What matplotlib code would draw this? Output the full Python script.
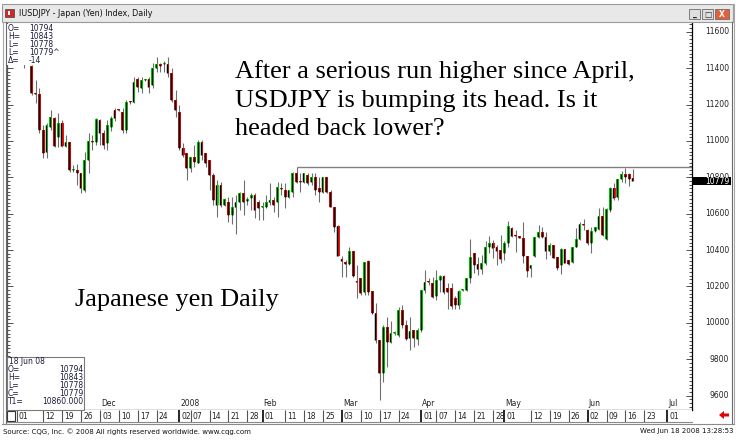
import numpy as np
import pandas as pd
import matplotlib
matplotlib.use('Agg')
import matplotlib.pyplot as plt
from matplotlib.patches import Rectangle, Polygon
from matplotlib.ticker import MultipleLocator, NullFormatter

W, H = 743, 443

# daily USDJPY bars (x100), 5 Nov 2007 .. 18 Jun 2008
opens = [11470, 11450, 11409, 11262, 11258, 11060, 10938, 11077, 11126, 11021,
         11099, 10972, 10994, 10838, 10840, 10823, 10729, 10895, 10999, 10994,
         11115, 11043, 10988, 11077, 11170, 11172, 11159, 11060, 11216, 11214,
         11341, 11291, 11334, 11341, 11308, 11402, 11424, 11422, 11424, 11374,
         11225, 11159, 10961, 10932, 10849, 10913, 10877, 10996, 10932, 10895,
         10812, 10650, 10757, 10647, 10665, 10592, 10638, 10665, 10711, 10672,
         10684, 10702, 10665, 10636, 10638, 10665, 10674, 10665, 10742, 10730,
         10693, 10720, 10825, 10777, 10775, 10812, 10775, 10803, 10739, 10720,
         10803, 10720, 10638, 10531, 10352, 10337, 10326, 10394, 10230, 10248,
         10171, 10341, 10175, 10056, 9906, 9726, 9979, 9897, 9944, 9934,
         10071, 9988, 9915, 9961, 9910, 9961, 10181, 10228, 10218, 10148,
         10236, 10258, 10190, 10190, 10138, 10098, 10180, 10180, 10245, 10382,
         10322, 10296, 10327, 10419, 10441, 10415, 10399, 10386, 10437, 10520,
         10480, 10472, 10465, 10368, 10300, 10368, 10470, 10501, 10470, 10396,
         10426, 10364, 10318, 10404, 10343, 10336, 10419, 10459, 10543, 10510,
         10437, 10505, 10514, 10587, 10459, 10620, 10739, 10690, 10789, 10818,
         10818, 10794]
highs = [11490, 11480, 11415, 11335, 11291, 11088, 11100, 11170, 11132, 11154,
         11115, 11032, 10994, 10867, 10873, 10823, 10939, 11043, 11032, 11126,
         11120, 11060, 11115, 11137, 11181, 11175, 11181, 11225, 11218, 11352,
         11352, 11352, 11340, 11352, 11430, 11460, 11430, 11440, 11463, 11402,
         11280, 11198, 10988, 10933, 10913, 10977, 11005, 11005, 10932, 10895,
         10822, 10785, 10775, 10684, 10693, 10693, 10700, 10720, 10785, 10693,
         10711, 10711, 10674, 10665, 10702, 10766, 10693, 10775, 10766, 10766,
         10730, 10831, 10855, 10822, 10822, 10822, 10822, 10822, 10803, 10803,
         10803, 10730, 10638, 10540, 10370, 10347, 10419, 10394, 10316, 10248,
         10336, 10347, 10175, 10108, 9906, 9988, 10034, 10012, 9955, 10089,
         10097, 10016, 10034, 9961, 9970, 10181, 10290, 10245, 10254, 10290,
         10263, 10263, 10218, 10218, 10146, 10182, 10186, 10245, 10459, 10386,
         10364, 10373, 10452, 10477, 10454, 10426, 10482, 10448, 10560, 10527,
         10510, 10474, 10556, 10368, 10318, 10470, 10538, 10525, 10501, 10437,
         10426, 10364, 10410, 10404, 10347, 10419, 10520, 10556, 10569, 10515,
         10527, 10528, 10630, 10638, 10630, 10745, 10770, 10789, 10836, 10849,
         10825, 10843]
lows = [11398, 11430, 11255, 11209, 11043, 10906, 10906, 11060, 10966, 10966,
        10966, 10966, 10829, 10829, 10757, 10713, 10718, 10823, 10950, 10977,
        10977, 10955, 10950, 11055, 11110, 11165, 11043, 11043, 11205, 11209,
        11269, 11264, 11330, 11264, 11291, 11380, 11380, 11380, 11352, 11214,
        11132, 10950, 10913, 10785, 10831, 10858, 10877, 10895, 10858, 10730,
        10647, 10583, 10638, 10640, 10555, 10546, 10491, 10620, 10592, 10647,
        10620, 10574, 10564, 10564, 10630, 10647, 10610, 10583, 10702, 10629,
        10684, 10693, 10766, 10720, 10766, 10757, 10757, 10702, 10665, 10711,
        10711, 10638, 10500, 10365, 10251, 10251, 10316, 10253, 10134, 10153,
        10153, 10153, 10050, 9888, 9574, 9677, 9759, 9890, 9935, 9924,
        9970, 9906, 9851, 9869, 9879, 9950, 10163, 10210, 10135, 10126,
        10171, 10160, 10075, 10075, 10075, 10075, 10176, 10177, 10218, 10272,
        10263, 10268, 10318, 10386, 10355, 10318, 10327, 10344, 10419, 10472,
        10391, 10466, 10331, 10254, 10251, 10360, 10465, 10465, 10349, 10374,
        10355, 10291, 10269, 10327, 10318, 10327, 10415, 10454, 10510, 10430,
        10382, 10500, 10510, 10480, 10454, 10610, 10675, 10675, 10776, 10767,
        10752, 10778]
closes = [11440, 11465, 11262, 11258, 11060, 10933, 11088, 11132, 10972, 11099,
          10972, 10994, 10840, 10842, 10823, 10740, 10895, 11000, 10994, 11120,
          11043, 10977, 11088, 11126, 11126, 11168, 11060, 11214, 11212, 11325,
          11297, 11336, 11337, 11297, 11402, 11424, 11413, 11426, 11374, 11225,
          11170, 10961, 10922, 10850, 10913, 10882, 10996, 10922, 10877, 10812,
          10674, 10757, 10647, 10680, 10592, 10638, 10665, 10711, 10665, 10676,
          10702, 10620, 10629, 10640, 10665, 10674, 10647, 10748, 10736, 10693,
          10730, 10825, 10775, 10773, 10822, 10766, 10803, 10730, 10720, 10803,
          10720, 10638, 10527, 10365, 10339, 10325, 10394, 10257, 10225, 10166,
          10336, 10171, 10056, 9906, 9726, 9979, 9897, 9942, 9948, 10071,
          9988, 9910, 9957, 9915, 9961, 10181, 10226, 10222, 10141, 10236,
          10258, 10171, 10171, 10093, 10098, 10177, 10182, 10245, 10360, 10318,
          10296, 10327, 10419, 10437, 10410, 10395, 10349, 10437, 10533, 10478,
          10476, 10469, 10368, 10287, 10318, 10470, 10501, 10470, 10396, 10426,
          10358, 10300, 10404, 10331, 10323, 10419, 10459, 10543, 10540, 10437,
          10503, 10525, 10587, 10483, 10624, 10739, 10685, 10789, 10818, 10803,
          10793, 10779]

# trading calendar used for the x axis
cal_start, cal_end = '2007-11-01', '2008-07-15'
first_bar = '2007-11-05'
holidays = ['2008-01-01']
week_ticks = ['2007-11-01', '2007-11-12', '2007-11-19', '2007-11-26', '2007-12-03',
              '2007-12-10', '2007-12-17', '2007-12-24', '2008-01-02', '2008-01-07',
              '2008-01-14', '2008-01-21', '2008-01-28', '2008-02-01', '2008-02-11',
              '2008-02-18', '2008-02-25', '2008-03-03', '2008-03-10', '2008-03-17',
              '2008-03-24', '2008-04-01', '2008-04-07', '2008-04-14', '2008-04-21',
              '2008-04-28', '2008-05-01', '2008-05-12', '2008-05-19', '2008-05-26',
              '2008-06-02', '2008-06-09', '2008-06-16', '2008-06-23', '2008-07-01']
month_labels = {'2007-12-03': 'Dec', '2008-01-02': '2008', '2008-02-01': 'Feb',
                '2008-03-03': 'Mar', '2008-04-01': 'Apr', '2008-05-01': 'May',
                '2008-06-02': 'Jun', '2008-07-01': 'Jul'}
month_starts = ['2008-01-02', '2008-02-01', '2008-03-03', '2008-04-01',
                '2008-05-01', '2008-06-02', '2008-07-01']
price_ticks = list(range(9600, 11601, 200))
resistance = 10855
resistance_bar = 72
last_price = 10779

title = 'IUSDJPY - Japan (Yen) Index, Daily'
quote_top = [('O=', '10794'), ('H=', '10843'), ('L=', '10778'), ('L=', '10779^'), ('Δ=', '-14')]
quote_box = [('O=', '10794'), ('H=', '10843'), ('L=', '10778'), ('C=', '10779'), ('T1=', '10860.000')]
note = ['After a serious run higher since April,',
        'USDJPY is bumping its head. Is it',
        'headed back lower?']

days = pd.bdate_range(cal_start, cal_end)
days = days[~days.isin(pd.to_datetime(holidays))]
def pos(d):
    return days.get_loc(pd.Timestamp(d))

o = np.array(opens, float); h = np.array(highs, float)
l = np.array(lows, float); c = np.array(closes, float)
x = pos(first_bar) + np.arange(len(c))

def fx(px): return px / W
def fy(py): return 1 - py / H

fig = plt.figure(figsize=(W / 100, H / 100), dpi=100, facecolor='white')

# ---- price panel
ax = fig.add_axes([fx(7), fy(410), 685 / W, 387 / H])
ax.set_xlim(-2.58, 178.6)
ax.set_ylim(9521, 11648)

# candles: grey high-low line, coloured body, black stroke down the body's left side
ax.vlines(x, l, h, color='#6e6e6e', lw=0.8, zorder=2)
up = c >= o
body_lo = np.minimum(o, c)
body_h = np.maximum(np.abs(c - o), 6)
ax.bar(x, body_h, bottom=body_lo, width=0.74,
       color=np.where(up, '#00ee00', '#ee1111'), lw=0, zorder=3)
ax.vlines(x - 0.17, body_lo, body_lo + body_h, color='black', lw=1.05, zorder=4)

ax.hlines(resistance, x[resistance_bar], ax.get_xlim()[1], color='#808080', lw=1, zorder=1)

for s in ['left', 'right', 'bottom']:
    ax.spines[s].set_color('black')
    ax.spines[s].set_linewidth(0.9)
ax.spines['top'].set_visible(False)
ax.spines['left'].set_color('#555555')
ax.set_xticks([])
ax.yaxis.set_major_locator(MultipleLocator(200))
ax.yaxis.set_minor_locator(MultipleLocator(20))
ax.yaxis.set_major_formatter(NullFormatter())
ax.tick_params(axis='y', which='both', direction='in', left=True, right=True,
               colors='#333333', width=0.6)
ax.tick_params(axis='y', which='major', length=4)
ax.tick_params(axis='y', which='minor', length=2.5)

ytr = ax.get_yaxis_transform()
lab_x = (729 - 7) / 685
for p in price_ticks:
    ax.text(lab_x, p, str(p), transform=ytr, ha='right', va='center',
            fontsize=5.5, color='#222222', clip_on=False)
# last-price flag on the scale
ax.add_patch(Rectangle((1.0015, last_price - 24), 0.0555, 48, transform=ytr,
                       fc='black', ec='none', clip_on=False, zorder=5))
ax.text(lab_x, last_price, str(last_price), transform=ytr, ha='right', va='center',
        fontsize=5.5, color='white', clip_on=False, zorder=6)

xtr = ax.get_xaxis_transform()
for d, name in month_labels.items():
    ax.text(pos(d) + 0.3, 0.004, name, transform=xtr, ha='left', va='bottom',
            fontsize=5.5, color='#222222')

# ---- date strip under the price panel
axd = fig.add_axes([fx(7), fy(422), 685 / W, 12 / H])
axd.set_xlim(ax.get_xlim())
axd.set_ylim(0, 1)
axd.set_xticks([]); axd.set_yticks([])
for s in ['top', 'left', 'right']:
    axd.spines[s].set_visible(False)
axd.spines['bottom'].set_color('#8a8a8a')
for d in week_ticks:
    p = pos(d)
    strong = d in month_starts
    axd.vlines(p, 0, 1, color='black' if strong else '#555555', lw=1.2 if strong else 0.8)
    axd.text(p + 0.55, 0.45, pd.Timestamp(d).strftime('%d'), ha='left', va='center',
             fontsize=5.5, color='#222222')
axd.add_patch(Rectangle((-2.58, 0.08), 2.1, 0.84, fc='white', ec='#333333', lw=0.8))

# ---- window frame, captions and quote boxes
ov = fig.add_axes([0, 0, 1, 1], zorder=10)
ov.set_xlim(0, W); ov.set_ylim(H, 0); ov.axis('off'); ov.patch.set_alpha(0)

ov.add_patch(Rectangle((2, 4), 731, 18, fc='#e8e8e8', ec='#9a9a9a', lw=0.8))
ov.add_patch(Rectangle((5, 9), 9, 8, fc='#d02828', ec='#404040', lw=0.5))
ov.add_patch(Rectangle((8, 11), 2, 4, fc='white', ec='none'))
ov.text(19, 13.5, title, fontsize=5.8, va='center', ha='left', color='#111111')
for bx, bw, fc, sym, col in [(689, 11, '#dedede', '_', '#222222'),
                             (702, 11, '#dedede', '□', '#222222'),
                             (715, 14, '#e2603a', 'X', 'white')]:
    ov.add_patch(Rectangle((bx, 9), bw, 10, fc=fc, ec='#6a6a6a', lw=0.6))
    ov.text(bx + bw / 2, 14, sym, fontsize=5.5, ha='center', va='center',
            color=col, fontweight='bold')

ov.plot([2.5, 2.5], [22, 424], color='#a8a8a8', lw=0.8)
ov.plot([5.5, 5.5], [22, 424], color='#6a6a6a', lw=0.8)
ov.plot([731.5, 731.5], [22, 424], color='#6a6a6a', lw=0.8)
ov.plot([734, 734], [4, 424], color='#a8a8a8', lw=0.8)
ov.plot([2, 734], [423.5, 423.5], color='#8a8a8a', lw=0.8)

ov.add_patch(Polygon([(719, 415), (724, 411), (724, 413.5), (729, 413.5),
                      (729, 416.5), (724, 416.5), (724, 419)], fc='#e00000', ec='none'))

ov.text(3, 431.5, 'Source: CQG, Inc. © 2008 All rights reserved worldwide. www.cqg.com',
        fontsize=5, ha='left', va='center', color='#111111')
ov.text(733, 431.5, 'Wed Jun 18 2008 13:28:53', fontsize=5, ha='right', va='center',
        color='#111111')

ov.add_patch(Rectangle((7, 23.5), 52, 41, fc='white', ec='none'))
for i, (k, v) in enumerate(quote_top):
    yy = 28 + i * 8.2
    ov.text(8, yy, k, fontsize=5.5, ha='left', va='center', color='#1a1a3a')
    ov.text(29, yy, v, fontsize=5.5, ha='left', va='center', color='#1a1a3a')

ov.add_patch(Rectangle((7, 357), 77, 53, fc='white', ec='#7a7a7a', lw=0.8))
ov.text(9, 362, '18 Jun 08', fontsize=5.5, ha='left', va='center', color='#1a1a3a')
for i, (k, v) in enumerate(quote_box):
    yy = 370 + i * 7.8
    ov.text(8, yy, k, fontsize=5.5, ha='left', va='center', color='#1a1a3a')
    ov.text(83, yy, v, fontsize=5.5, ha='right', va='center', color='#1a1a3a')

for i, line in enumerate(note):
    fig.text(fx(235), fy(78 + i * 28.5), line, fontsize=19, family='Liberation Serif',
             va='baseline', ha='left', color='black')
fig.text(fx(75), fy(306), 'Japanese yen Daily', fontsize=19, family='Liberation Serif',
         va='baseline', ha='left', color='black')

fig.savefig('out.png', dpi=100, facecolor='white')
